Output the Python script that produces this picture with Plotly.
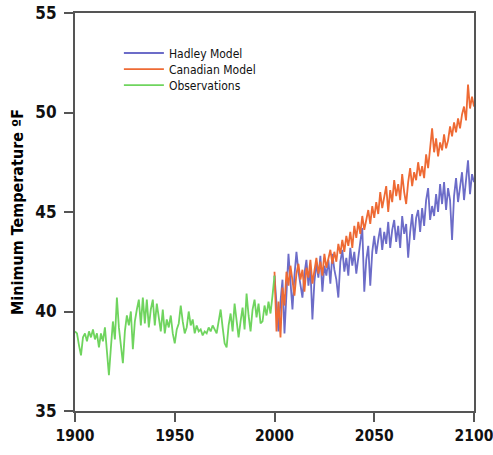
import plotly.graph_objects as go

obs_years = list(range(1900, 2001))
obs_values = [
    39.0, 38.9, 38.3, 37.8, 38.7, 38.9, 38.5, 39.0, 38.7, 39.1,
    38.6, 38.9, 38.2, 38.9, 38.5, 39.2, 38.0, 36.8, 38.2, 39.5,
    38.6, 40.7, 39.2, 38.3, 37.4, 39.0, 39.8, 39.3, 40.0, 38.1,
    39.5, 40.1, 40.6, 39.3, 40.7, 39.4, 40.6, 39.2, 40.1, 40.6,
    39.3, 40.4, 39.7, 39.0, 40.1, 38.9, 39.6, 39.2, 39.8, 38.9,
    38.4, 39.1, 39.4, 40.3, 39.5, 38.9, 39.2, 40.0, 39.3, 39.6,
    38.9, 39.3, 39.0, 39.1, 38.8, 39.0, 38.9, 39.2, 39.0, 39.3,
    39.1, 38.9, 39.5, 40.1, 39.2, 38.4, 38.2, 39.3, 39.9, 39.0,
    40.4, 39.6, 38.7, 39.5, 40.2, 39.1, 40.9, 39.8, 39.0, 40.1,
    40.6, 39.7, 40.4, 39.4, 39.5, 40.3, 39.8, 40.5, 39.9, 40.8,
    41.8,
]

model_years = list(range(2000, 2101))
hadley_values = [
    41.8, 40.2, 39.0, 40.5, 41.6, 38.9, 41.0, 42.9, 41.5, 40.1,
    41.8, 43.0, 42.0, 41.2, 40.7, 41.9, 42.6, 41.3, 42.2, 39.6,
    41.5, 42.4, 41.7, 42.8, 41.0, 42.3, 41.8, 42.6, 41.4, 42.9,
    42.1, 41.6, 40.7, 42.5, 43.1, 42.0, 42.7, 41.8, 43.2, 42.3,
    43.0, 41.9, 42.8, 43.5, 44.2, 41.0, 42.6, 43.3, 41.3, 43.0,
    43.8, 42.9, 43.6, 44.2, 43.1, 44.0, 43.4, 44.5, 43.2, 44.1,
    44.6, 43.5, 44.3, 43.2, 44.8, 43.9, 44.4, 42.7, 44.0, 44.9,
    43.6, 44.7, 45.1, 44.0, 45.2, 44.3, 45.6, 46.2, 44.6, 45.3,
    44.8, 45.9, 45.0, 46.4, 45.4, 46.5, 45.1, 46.2, 45.6, 43.6,
    45.8, 46.7, 45.5, 46.4, 47.0, 45.6, 46.8, 47.6, 45.9, 46.9,
    46.5,
]
canadian_values = [
    42.0, 39.0, 40.5, 38.7, 41.2, 40.3, 42.0, 41.3, 42.3, 41.5,
    40.8, 41.9, 42.4, 41.6, 42.1, 41.0, 42.2, 41.7, 42.6, 41.4,
    42.0, 42.7, 41.9, 42.5, 41.8, 42.9, 42.2, 42.6, 43.1, 42.4,
    43.0, 42.5, 43.4, 42.9, 43.6, 43.0, 43.8, 43.3, 44.0, 43.2,
    44.3, 43.7, 44.5, 43.9, 44.8, 44.1, 44.6, 45.1, 44.4, 45.3,
    44.7, 45.5, 44.9, 46.0, 45.2, 45.8, 46.3, 45.0, 46.1, 45.5,
    46.6, 45.8, 46.4, 45.6, 46.9, 46.0, 45.4, 46.5, 47.2, 46.3,
    47.0, 46.6, 47.5, 46.8, 47.3, 46.7, 47.9, 47.2, 48.4, 49.2,
    48.0, 48.7, 47.8, 48.5, 48.1, 48.9, 48.2, 48.6, 49.3, 48.8,
    49.5, 49.0, 49.7, 49.2, 49.9, 50.3, 49.6, 51.4, 50.2, 50.8,
    50.3,
]

x_ticks = [1900, 1950, 2000, 2050, 2100]
y_ticks = [35, 40, 45, 50, 55]

FONT = "DejaVu Sans Condensed, Liberation Sans Narrow, Arial Narrow, sans-serif"
LEGEND_FONT = dict(family=FONT, size=12, color="#111111")

fig = go.Figure()
fig.add_trace(go.Scatter(x=model_years, y=hadley_values, mode="lines",
                         name="Hadley Model", legend="legend",
                         line=dict(color="#6c6cc8", width=1.8)))
fig.add_trace(go.Scatter(x=model_years, y=canadian_values, mode="lines",
                         name="Canadian Model", legend="legend2",
                         line=dict(color="#ee6a34", width=1.8)))
fig.add_trace(go.Scatter(x=obs_years, y=obs_values, mode="lines",
                         name="Observations", legend="legend3",
                         line=dict(color="#6fd45e", width=1.8)))

axis_common = dict(showgrid=False, zeroline=False, showline=True, linecolor="#555555",
                   linewidth=2, mirror=True, ticks="outside", tickcolor="#555555",
                   tickwidth=2, ticklen=9, automargin=False, ticklabeloverflow="allow")

def leg(yv):
    return dict(x=0.11, y=yv, xanchor="left", yanchor="middle",
                bgcolor="rgba(255,255,255,0)", borderwidth=0,
                font=LEGEND_FONT, itemwidth=40)

fig.update_layout(
    width=493, height=455,
    margin=dict(l=75, r=19, t=13, b=44, autoexpand=False),
    paper_bgcolor="white", plot_bgcolor="white",
    showlegend=True,
    legend=leg(0.8995),
    legend2=leg(0.859),
    legend3=leg(0.819),
    xaxis=dict(range=[1900, 2100], tickvals=x_ticks,
               tickfont=dict(family=FONT, size=15.5, color="#111111", weight="bold"),
               **axis_common),
    yaxis=dict(range=[35, 55], tickvals=y_ticks, ticklabelstandoff=4,
               tickfont=dict(family=FONT, size=17, color="#111111", weight="bold"),
               **axis_common),
    annotations=[dict(text="Minimum Temperature ºF", xref="paper", yref="paper",
                      x=0, y=0.5, xshift=-58, xanchor="center", yanchor="middle",
                      textangle=-90, showarrow=False,
                      font=dict(family=FONT, size=16, color="#000000", weight="bold"))],
)

# remove the browser's default 8px body margin so the 493x455 figure fills the window
fig.write_html("out.html", config={"displayModeBar": False},
               post_script="document.body.style.margin='0';")
